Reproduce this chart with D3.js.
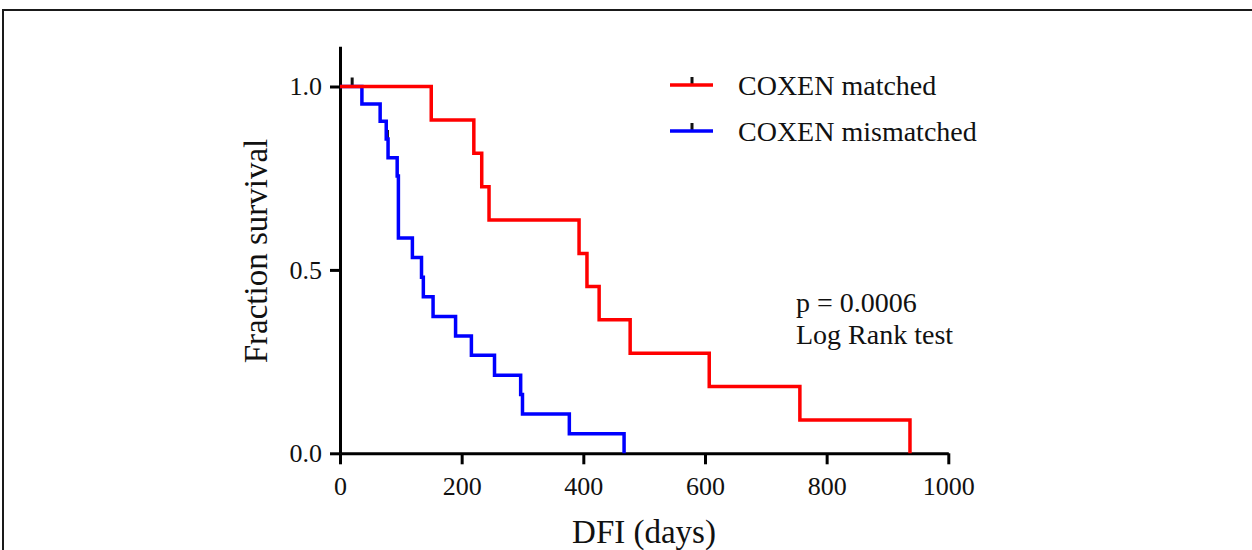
<!DOCTYPE html>
<html>
<head>
<meta charset="utf-8">
<script src="https://cdn.jsdelivr.net/npm/d3@7"></script>
<style>
  html, body { margin: 0; padding: 0; background: #fff; }
  svg { display: block; }
  text { font-family: "Liberation Serif", "Times New Roman", serif; fill: #111; }
</style>
</head>
<body>
<svg id="chart" width="1252" height="550"></svg>
<script>
// Kaplan-Meier steps: event time (days) and survival fraction after the step
const matchedDays = [0, 150, 220, 233, 245, 393, 406, 426, 477, 607, 756, 937];
const matchedSurv = [1, 0.909, 0.818, 0.727, 0.636, 0.545, 0.455, 0.364, 0.273, 0.182, 0.091, 0];

const mismatchedDays = [0, 36, 66, 76, 79, 94, 96, 119, 134, 137, 153, 190, 216, 254, 297, 300, 377, 467];
const mismatchedSurv = [1, 0.952, 0.905, 0.857, 0.806, 0.756, 0.587, 0.534, 0.480, 0.427, 0.373, 0.320, 0.267, 0.213, 0.160, 0.107, 0.053, 0];

// censored observations (days)
const mismatchedCensored = [20, 78];
const matchedCensored = [];

const xTicks = [0, 200, 400, 600, 800, 1000];
const yTicks = [0, 0.5, 1.0];

const seriesNames = ["COXEN matched", "COXEN mismatched"];
const seriesColors = ["#ff0000", "#0000ff"];

const svg = d3.select("#chart");

// outer frame (top and left edges)
svg.append("path")
  .attr("d", "M3,550 L3,10 L1252,10")
  .attr("fill", "none").attr("stroke", "#1a1a1a").attr("stroke-width", 2);

const x = d3.scaleLinear().domain([0, 1000]).range([340, 948.3]);
const y = d3.scaleLinear().domain([0, 1.11]).range([453.3, 453.3 - 1.11 * 366.8]);

function styleAxis(g) {
  g.select(".domain").attr("stroke", "#000").attr("stroke-width", 3);
  g.selectAll(".tick line").attr("stroke", "#000").attr("stroke-width", 3);
  g.selectAll(".tick text")
    .attr("fill", "#111")
    .style("font-family", '"Liberation Serif", "Times New Roman", serif')
    .style("font-size", "26px");
}

const yAxis = svg.append("g")
  .attr("transform", `translate(${x(0)},0)`)
  .call(d3.axisLeft(y).tickValues(yTicks).tickFormat(d3.format(".1f"))
    .tickSize(10).tickSizeOuter(0).tickPadding(8));
styleAxis(yAxis);

const xAxis = svg.append("g")
  .attr("transform", `translate(0,${y(0)})`)
  .call(d3.axisBottom(x).tickValues(xTicks).tickFormat(d3.format("d"))
    .tickSize(11).tickSizeOuter(0).tickPadding(12));
styleAxis(xAxis);

// axis titles
svg.append("text")
  .attr("x", 644).attr("y", 543)
  .attr("text-anchor", "middle")
  .style("font-size", "33px")
  .text("DFI (days)");

svg.append("text")
  .attr("transform", "translate(267,251) rotate(-90)")
  .attr("text-anchor", "middle")
  .style("font-size", "33px")
  .text("Fraction survival");

// survival curves
const stepLine = d3.line()
  .x(d => x(d[0]))
  .y(d => y(d[1]))
  .curve(d3.curveStepAfter);

function survivalAt(days, surv, t) {
  const i = d3.bisectRight(days, t) - 1;
  return surv[Math.max(0, i)];
}

const groups = [
  { days: matchedDays, surv: matchedSurv, censored: matchedCensored, color: seriesColors[0] },
  { days: mismatchedDays, surv: mismatchedSurv, censored: mismatchedCensored, color: seriesColors[1] }
];

// censor ticks sit under the curves
groups.forEach(g => {
  svg.append("g").selectAll("line")
    .data(g.censored)
    .join("line")
    .attr("x1", d => x(d)).attr("x2", d => x(d))
    .attr("y1", d => y(survivalAt(g.days, g.surv, d)) - 9)
    .attr("y2", d => y(survivalAt(g.days, g.surv, d)) + 1)
    .attr("stroke", "#111").attr("stroke-width", 3);
});

groups.slice().reverse().forEach(g => {
  const pts = g.days.map((d, i) => [d, g.surv[i]]);
  svg.append("path")
    .datum(pts)
    .attr("d", stepLine)
    .attr("fill", "none")
    .attr("stroke", g.color)
    .attr("stroke-width", 3.5)
    .attr("stroke-linejoin", "miter");
});

// legend
const legend = svg.append("g");
const legendRows = [85, 131];
seriesNames.forEach((name, i) => {
  const row = legend.append("g").attr("transform", `translate(0,${legendRows[i]})`);
  row.append("line")
    .attr("x1", 692).attr("x2", 692).attr("y1", -8).attr("y2", 1)
    .attr("stroke", "#111").attr("stroke-width", 3);
  row.append("line")
    .attr("x1", 670).attr("x2", 713).attr("y1", 0).attr("y2", 0)
    .attr("stroke", seriesColors[i]).attr("stroke-width", 3.5);
  row.append("text")
    .attr("x", 738).attr("y", 10)
    .style("font-size", "28px")
    .text(name);
});

// test annotation
svg.append("text").attr("x", 796).attr("y", 312).style("font-size", "28px").text("p = 0.0006");
svg.append("text").attr("x", 796).attr("y", 344).style("font-size", "28px").text("Log Rank test");
</script>
</body>
</html>
